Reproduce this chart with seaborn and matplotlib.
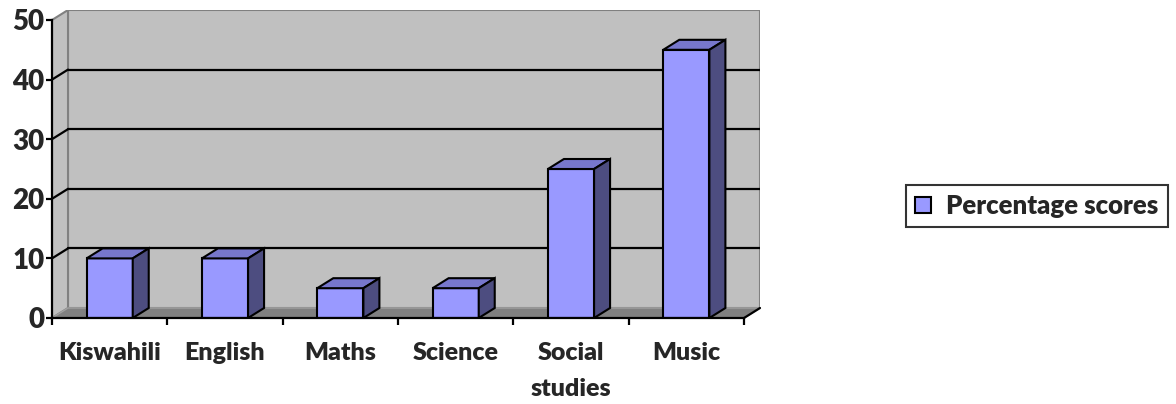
import matplotlib
matplotlib.use("Agg")
import matplotlib.pyplot as plt
from matplotlib.patches import Polygon, Rectangle
import seaborn as sns

subjects = ["Kiswahili", "English", "Maths", "Science", "Social\nstudies", "Music"]
scores = [10, 10, 5, 5, 25, 45]
y_ticks = [0, 10, 20, 30, 40, 50]
series_name = "Percentage scores"

FRONT = "#9999FF"
TOP = "#7777CC"
SIDE = "#4D4D80"
WALL = "#C0C0C0"
FLOOR = "#808080"

sns.set_theme(style="white")
plt.rcParams["font.family"] = ["Lato", "DejaVu Sans"]
plt.rcParams["font.weight"] = "bold"
WEIGHT = "heavy"

W, H = 1176, 404
fig = plt.figure(figsize=(W / 100, H / 100), dpi=100)
ax = fig.add_axes([52 / W, (H - 318) / H, 708 / W, 308 / H])

n = len(subjects)
ymax = 50
# depth offset of the 3-D box, in data units
dx = 16 / 115.33
dy = 10 / 5.96

ax.set_xlim(-0.5, n - 0.5 + dx)
ax.set_ylim(0, ymax + dy)

# walls and floor
x0, x1 = -0.5, n - 0.5
ax.add_patch(Rectangle((x0 + dx, dy), x1 - x0, ymax, facecolor=WALL,
                       edgecolor=FLOOR, linewidth=1.5, zorder=1))
ax.add_patch(Polygon([(x0, 0), (x0 + dx, dy), (x0 + dx, ymax + dy), (x0, ymax)],
                     closed=True, facecolor=WALL, edgecolor=FLOOR,
                     linewidth=1.5, zorder=1))
ax.add_patch(Polygon([(x0, 0), (x1, 0), (x1 + dx, dy), (x0 + dx, dy)],
                     closed=True, facecolor=FLOOR, edgecolor="#A0A0A0",
                     linewidth=1.0, zorder=2))

# gridlines on the back wall and the side wall
for v in y_ticks[1:-1]:
    ax.plot([x0 + dx, x1 + dx], [v + dy, v + dy], color="black", lw=1.6, zorder=2)
    ax.plot([x0, x0 + dx], [v, v + dy], color="black", lw=1.6, zorder=2)
ax.plot([x1, x1 + dx], [0, dy], color="black", lw=1.6, zorder=3, clip_on=False)

# bars: front faces from seaborn, then top and side faces
sns.barplot(x=subjects, y=scores, color=FRONT, saturation=1, width=0.4,
            edgecolor="black", linewidth=1.5, ax=ax, zorder=5, label=series_name)
for p in ax.patches:
    if p.get_zorder() != 5:
        continue
    bx, by = p.get_x(), p.get_y()
    bw, bh = p.get_width(), p.get_height()
    top = Polygon([(bx, by + bh), (bx + dx, by + bh + dy),
                   (bx + bw + dx, by + bh + dy), (bx + bw, by + bh)],
                  closed=True, facecolor=TOP, edgecolor="black", linewidth=1.5, zorder=6)
    side = Polygon([(bx + bw, by), (bx + bw + dx, by + dy),
                    (bx + bw + dx, by + bh + dy), (bx + bw, by + bh)],
                   closed=True, facecolor=SIDE, edgecolor="black", linewidth=1.5, zorder=6)
    ax.add_patch(top)
    ax.add_patch(side)

ax.set_xlim(-0.5, n - 0.5 + dx)
ax.set_ylim(0, ymax + dy)

# axes
for s in ["top", "right"]:
    ax.spines[s].set_visible(False)
ax.spines["left"].set_bounds(0, ymax)
ax.spines["bottom"].set_bounds(x0, x1)
for s in ["left", "bottom"]:
    ax.spines[s].set_color("black")
    ax.spines[s].set_linewidth(1.6)
    ax.spines[s].set_zorder(7)

ax.set_yticks(y_ticks)
ax.set_yticklabels([str(v) for v in y_ticks], fontsize=20, fontweight=WEIGHT)
ax.set_xticks([i - 0.5 for i in range(n + 1)])
ax.set_xticklabels([""] * (n + 1))
ax.set_xticks(range(n), minor=True)
ax.set_xticklabels(subjects, minor=True, fontsize=18, fontweight=WEIGHT,
                   linespacing=1.8, va="top")
ax.tick_params(axis="y", which="major", left=True, length=4, width=1.6,
               color="black", pad=1.5)
ax.tick_params(axis="x", which="major", bottom=True, length=5, width=1.6,
               color="black")
ax.tick_params(axis="x", which="minor", bottom=True, length=0, pad=17)
ax.set_xlabel("")
ax.set_ylabel("")
ax.grid(False)

leg = ax.legend(loc="center", bbox_to_anchor=(1037 / W, 1 - 206 / H),
                bbox_transform=fig.transFigure, frameon=True, fancybox=False,
                handlelength=0.6, handleheight=0.6, handletextpad=0.6,
                borderpad=0.35, prop={"size": 18.5, "weight": WEIGHT})
leg.get_frame().set_edgecolor("black")
leg.get_frame().set_linewidth(1.5)

fig.savefig("out.png", dpi=100, facecolor="white")
